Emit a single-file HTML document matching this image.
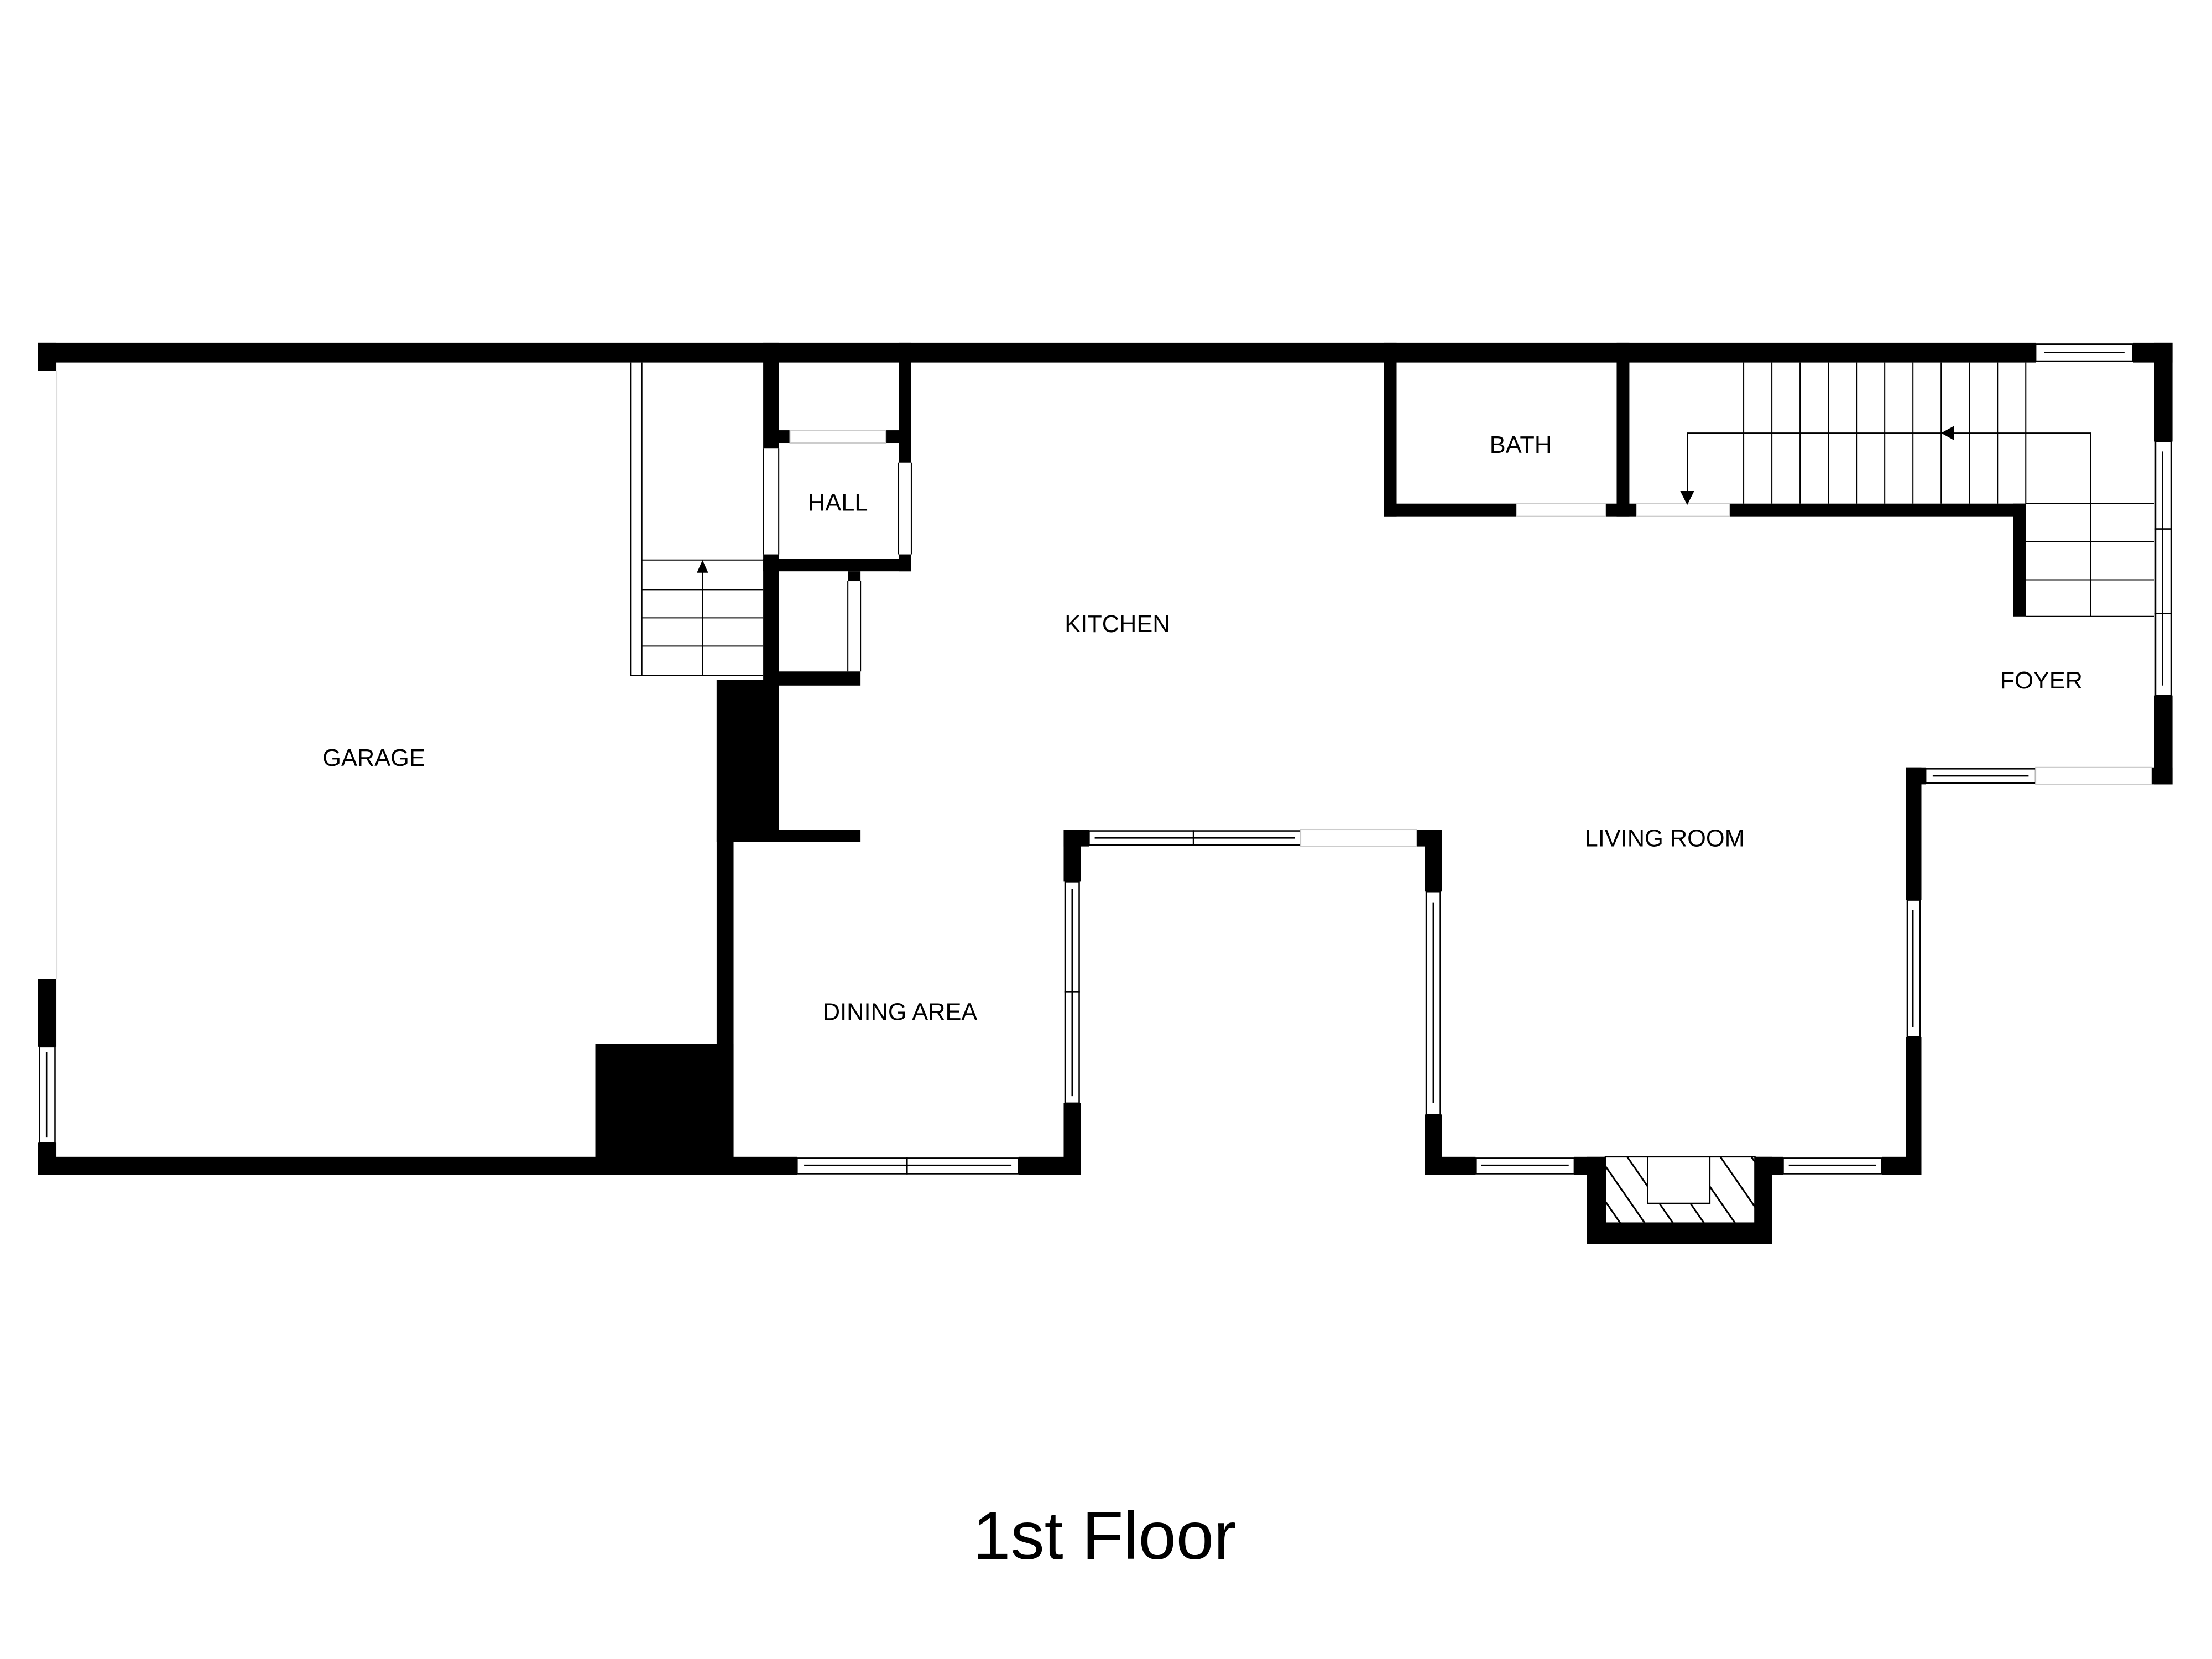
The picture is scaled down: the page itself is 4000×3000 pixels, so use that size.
<!DOCTYPE html>
<html><head><meta charset="utf-8"><style>html,body{margin:0;padding:0;background:#fff}svg{display:block}</style></head><body>
<svg width="4000" height="3000" viewBox="0 0 1568 1176" xmlns="http://www.w3.org/2000/svg">
<rect width="1568" height="1176" fill="#fff"/>
<g fill="#000">
<!-- top wall -->
<rect x="27" y="243" width="1416" height="14"/>
<rect x="1512" y="243" width="28" height="14"/>
<!-- left wall -->
<rect x="27" y="243" width="13" height="20"/>
<rect x="27" y="694" width="13" height="48"/>
<rect x="27" y="810" width="13" height="23"/>
<!-- bottom garage/dining -->
<rect x="27" y="820" width="538" height="13"/>
<rect x="722" y="820" width="44" height="13"/>
<rect x="422" y="740" width="98" height="93"/>
<rect x="508" y="482" width="12" height="351"/>
<rect x="508" y="482" width="44" height="115"/>
<rect x="508" y="588" width="102" height="9"/>
<!-- hall -->
<rect x="541" y="243" width="11" height="75"/>
<rect x="541" y="393" width="11" height="100"/>
<rect x="637" y="243" width="9" height="85"/>
<rect x="637" y="393" width="9" height="12"/>
<rect x="541" y="396" width="105" height="9"/>
<rect x="552" y="305" width="8" height="9"/>
<rect x="628" y="305" width="9" height="9"/>
<rect x="552" y="476" width="58" height="10"/>
<rect x="601" y="405" width="9" height="7"/>
<!-- bath / stair walls -->
<rect x="981" y="243" width="9" height="123"/>
<rect x="1146" y="243" width="9" height="123"/>
<rect x="981" y="357" width="94" height="9"/>
<rect x="1138" y="357" width="22" height="9"/>
<rect x="1226" y="357" width="210" height="9"/>
<rect x="1427" y="357" width="9" height="80"/>
<!-- right wall -->
<rect x="1527" y="243" width="13" height="70"/>
<rect x="1527" y="493" width="13" height="63"/>
<rect x="1351" y="544" width="14" height="12"/>
<rect x="1525" y="544" width="15" height="12"/>
<rect x="1351" y="544" width="11" height="94"/>
<rect x="1351" y="735" width="11" height="98"/>
<!-- living -->
<rect x="1010" y="820" width="36" height="13"/>
<rect x="1116" y="820" width="148" height="13"/>
<rect x="1334" y="820" width="28" height="13"/>
<rect x="1010" y="588" width="12" height="44"/>
<rect x="1010" y="790" width="12" height="43"/>
<rect x="1004" y="588" width="18" height="12"/>
<rect x="754" y="588" width="18" height="12"/>
<rect x="754" y="588" width="12" height="37"/>
<rect x="754" y="782" width="12" height="51"/>
<!-- fireplace -->
<rect x="1125" y="820" width="131" height="62"/>
</g>
<g fill="#fff" stroke="#000" stroke-width="1">
<rect x="1138" y="820" width="106" height="47"/>
</g>
<clipPath id="fp"><rect x="1138" y="820" width="106" height="47"/></clipPath>
<g clip-path="url(#fp)" stroke="#000" stroke-width="1.2">
<line x1="1130" y1="815" x2="1168" y2="870"/><line x1="1130" y1="840" x2="1152" y2="872"/>
<line x1="1150" y1="815" x2="1188" y2="870"/><line x1="1172" y1="815" x2="1210" y2="870"/>
<line x1="1194" y1="815" x2="1232" y2="870"/><line x1="1216" y1="815" x2="1254" y2="870"/>
<line x1="1238" y1="815" x2="1276" y2="870"/>
</g>
<rect x="1168" y="820" width="44" height="33" fill="#fff" stroke="#000" stroke-width="1"/>
<!-- windows -->
<g fill="#fff" stroke="#000" stroke-width="1">
<rect x="1443" y="244" width="69" height="12"/><line x1="1449" y1="250" x2="1506" y2="250"/>
<rect x="565" y="821" width="78" height="11"/><rect x="643" y="821" width="79" height="11"/><line x1="570" y1="826" x2="717" y2="826"/>
<rect x="28" y="742" width="11" height="68"/><line x1="33" y1="746" x2="33" y2="806"/>
<rect x="772" y="589" width="74" height="10"/><rect x="846" y="589" width="76" height="10"/><line x1="776" y1="594" x2="918" y2="594"/>
<rect x="755" y="625" width="10" height="78"/><rect x="755" y="703" width="10" height="79"/><line x1="760" y1="630" x2="760" y2="777"/>
<rect x="1011" y="632" width="10" height="158"/><line x1="1016" y1="640" x2="1016" y2="782"/>
<rect x="1046" y="821" width="70" height="11"/><line x1="1050" y1="826" x2="1112" y2="826"/>
<rect x="1264" y="821" width="70" height="11"/><line x1="1268" y1="826" x2="1330" y2="826"/>
<rect x="1352" y="638" width="9" height="97"/><line x1="1356" y1="645" x2="1356" y2="728"/>
<rect x="1365" y="545" width="78" height="10"/><line x1="1370" y1="550" x2="1438" y2="550"/>
<rect x="1528" y="313" width="11" height="62"/><rect x="1528" y="375" width="11" height="60"/><rect x="1528" y="435" width="11" height="58"/><line x1="1533" y1="320" x2="1533" y2="486"/>
</g>
<!-- doors (thin) -->
<g fill="#fff" stroke="#ccc" stroke-width="0.8">
<rect x="1075" y="357" width="63" height="9"/><rect x="1160" y="357" width="66" height="9"/>
<rect x="922" y="588" width="82" height="12"/><rect x="1443" y="544" width="82" height="12"/>
<rect x="560" y="305" width="68" height="9"/>
</g>
<g stroke="#000" stroke-width="0.8" fill="none">
<line x1="541" y1="318" x2="541" y2="393"/><line x1="552" y1="318" x2="552" y2="393"/>
<line x1="637" y1="328" x2="637" y2="393"/><line x1="646" y1="328" x2="646" y2="393"/>
<line x1="601" y1="412" x2="601" y2="476"/><line x1="610" y1="412" x2="610" y2="476"/>
<line x1="40" y1="263" x2="40" y2="694" stroke="#ddd"/>
<!-- garage stairs -->
<line x1="447" y1="257" x2="447" y2="479"/><line x1="455" y1="257" x2="455" y2="479"/>
<line x1="447" y1="479" x2="541" y2="479"/>
<line x1="455" y1="397" x2="541" y2="397"/><line x1="455" y1="418" x2="541" y2="418"/>
<line x1="455" y1="438" x2="541" y2="438"/><line x1="455" y1="458" x2="541" y2="458"/>
<line x1="498" y1="479" x2="498" y2="404"/>
<!-- main stairs -->
<line x1="1236" y1="257" x2="1236" y2="357"/><line x1="1256" y1="257" x2="1256" y2="357"/>
<line x1="1276" y1="257" x2="1276" y2="357"/><line x1="1296" y1="257" x2="1296" y2="357"/>
<line x1="1316" y1="257" x2="1316" y2="357"/><line x1="1336" y1="257" x2="1336" y2="357"/>
<line x1="1356" y1="257" x2="1356" y2="357"/><line x1="1376" y1="257" x2="1376" y2="357"/>
<line x1="1396" y1="257" x2="1396" y2="357"/><line x1="1416" y1="257" x2="1416" y2="357"/>
<line x1="1436" y1="257" x2="1436" y2="357"/>
<line x1="1436" y1="357" x2="1527" y2="357"/><line x1="1436" y1="384" x2="1527" y2="384"/>
<line x1="1436" y1="411" x2="1527" y2="411"/><line x1="1436" y1="437" x2="1527" y2="437"/>
<polyline points="1482,437 1482,307 1196,307 1196,352"/>
</g>
<g fill="#000">
<polygon points="498,397 494,406 502,406"/>
<polygon points="1376,307 1385,302 1385,312"/>
<polygon points="1196,358 1191,348 1201,348"/>
</g>
<g font-family="'Liberation Sans', sans-serif" font-size="17" fill="#000" text-anchor="middle">
<text x="265" y="543">GARAGE</text>
<text x="594" y="362">HALL</text>
<text x="792" y="448">KITCHEN</text>
<text x="1078" y="321">BATH</text>
<text x="1447" y="488">FOYER</text>
<text x="1180" y="600">LIVING ROOM</text>
<text x="638" y="723">DINING AREA</text>
<text x="783" y="1105" font-size="48">1st Floor</text>
</g>
</svg>
</body></html>
